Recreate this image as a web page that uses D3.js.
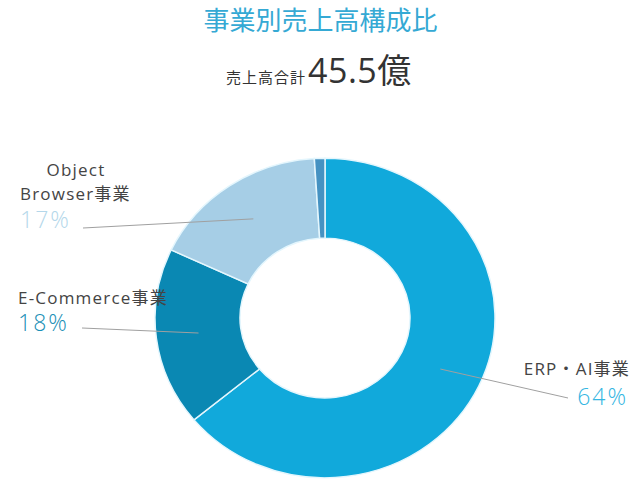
<!DOCTYPE html>
<html lang="ja">
<head>
<meta charset="utf-8">
<script src="https://cdn.jsdelivr.net/npm/d3@7"></script>
<style>
  html, body { margin: 0; padding: 0; background: #fff; }
  svg { display: block; font-family: "Open Sans", "Noto Sans CJK JP", sans-serif; }
</style>
</head>
<body>
<svg id="chart" width="641" height="483"></svg>
<script>
// Segment names and their share of total sales (%)
const categories = ["ERP・AI事業", "E-Commerce事業", "Object Browser事業", "その他"];
const shares = [64, 18, 17, 1];
// Label text shown beside each labelled segment
const labelLines = [["ERP・AI事業"], ["E-Commerce事業"], ["Object", "Browser事業"], []];
const pctLabels = ["64%", "18%", "17%", ""];
// Headline figures
const titleText = "事業別売上高構成比";
const totalCaption = "売上高合計";
const totalValue = "45.5億";

const palette = ["#11a9db", "#0a88b3", "#a6cee6", "#4592c2"];
const pctColors = ["#35b6e2", "#1a8fb6", "#b4d7ea", "#4592c2"];

const svg = d3.select("#chart");
const W = 641;

// Title and total
svg.append("text")
  .attr("x", W / 2).attr("y", 30)
  .attr("text-anchor", "middle")
  .attr("font-size", 26)
  .attr("fill", "#35a9d4")
  .text(titleText);

const totalG = svg.append("text")
  .attr("x", 226).attr("y", 83)
  .attr("text-anchor", "start")
  .attr("fill", "#333");
totalG.append("tspan").attr("font-size", 15).attr("letter-spacing", 1).text(totalCaption);
totalG.append("tspan").attr("font-size", 34).attr("letter-spacing", 0.5).attr("dx", 2).text(totalValue);

// Donut
const cx = 325, cy = 318, rOuter = 170, rInner = 85, squash = 0.94;

const pie = d3.pie().sort(null).value(d => d.v);
const arcs = pie(categories.map((c, i) => ({ c, v: shares[i], i })));
const arc = d3.arc().innerRadius(rInner).outerRadius(rOuter);

const ring = svg.append("g")
  .attr("transform", `translate(${cx},${cy}) scale(1,${squash})`);

ring.selectAll("path")
  .data(arcs)
  .join("path")
  .attr("d", arc)
  .attr("fill", d => palette[d.data.i])
  .attr("stroke", "#e4f6fd")
  .attr("stroke-width", 1.5);

// Label anchors (where the leader line meets the text block)
const labelLayout = [
  { lineEnd: [568, 398], nameX: 630, nameY: 375, pctX: 628, pctY: 405, anchor: "end" },
  { lineEnd: [82, 328], nameX: 18, nameY: 304, pctX: 18, pctY: 331, anchor: "start" },
  { lineEnd: [83, 228], nameX: 20, nameY: 200, pctX: 20, pctY: 228, anchor: "start", firstLineX: 76 },
  null
];

const labels = svg.append("g");
arcs.forEach(d => {
  const L = labelLayout[d.data.i];
  if (!L) return;
  const [mx, my] = arc.centroid(d);
  labels.append("line")
    .attr("x1", cx + mx).attr("y1", cy + my * squash)
    .attr("x2", L.lineEnd[0]).attr("y2", L.lineEnd[1])
    .attr("stroke", "#a0a0a0").attr("stroke-width", 1);

  const lines = labelLines[d.data.i];
  lines.forEach((t, k) => {
    const last = k === lines.length - 1;
    labels.append("text")
      .attr("x", last ? L.nameX : (L.firstLineX ?? L.nameX))
      .attr("y", L.nameY - (lines.length - 1 - k) * 24)
      .attr("text-anchor", last ? L.anchor : (L.firstLineX ? "middle" : L.anchor))
      .attr("font-size", 17)
      .attr("letter-spacing", 1.2)
      .attr("fill", "#444")
      .text(t);
  });
  labels.append("text")
    .attr("x", L.pctX).attr("y", L.pctY)
    .attr("text-anchor", L.anchor)
    .attr("font-size", 23)
    .attr("letter-spacing", 2)
    .attr("font-weight", 300)
    .attr("fill", pctColors[d.data.i])
    .text(pctLabels[d.data.i]);
});
</script>
</body>
</html>
